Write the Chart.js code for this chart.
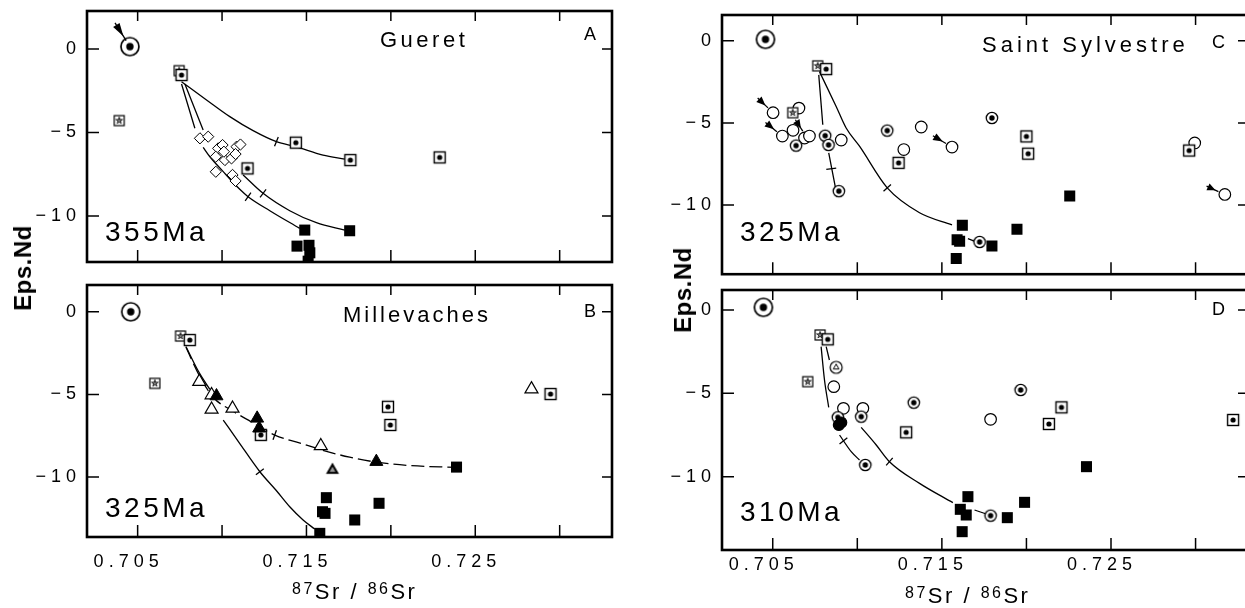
<!DOCTYPE html>
<html>
<head>
<meta charset="utf-8">
<title>Eps.Nd vs 87Sr/86Sr</title>
<script src="https://cdn.jsdelivr.net/npm/chart.js"></script>
<style>
  body { margin: 0; width: 1245px; height: 608px; overflow: hidden; background: #fff; position: relative;
         font-family: "Liberation Sans", Arial, sans-serif; color: #000; }
  canvas { position: absolute; }
  .txt { position: absolute; line-height: 1; white-space: nowrap; }
  .name { font-size: 22px; }
  .letter { font-size: 18px; }
  .age { font-size: 28px; letter-spacing: 3.5px; }
  .xt { font-size: 22px; letter-spacing: 2.5px; }
  .xt span { font-size: 16px; position: relative; top: -5px; }
  .yt { font-size: 24px; font-weight: bold; letter-spacing: 0.5px; transform: translate(-50%, -50%) rotate(-90deg); }
</style>
</head>
<body>
<canvas id="panelA" width="625" height="272" style="left:0;top:0"></canvas>
<canvas id="panelB" width="625" height="336" style="left:0;top:272px"></canvas>
<canvas id="panelC" width="630" height="282" style="left:630px;top:0"></canvas>
<canvas id="panelD" width="630" height="326" style="left:630px;top:282px"></canvas>

<div class="txt name" style="left:380px;top:29px;letter-spacing:3.5px">Gueret</div>
<div class="txt letter" style="left:584px;top:25px">A</div>
<div class="txt name" style="left:343px;top:304px;letter-spacing:3px">Millevaches</div>
<div class="txt letter" style="left:584px;top:302px">B</div>
<div class="txt name" style="left:982px;top:34px;letter-spacing:4px">Saint Sylvestre</div>
<div class="txt letter" style="left:1212px;top:33px">C</div>
<div class="txt letter" style="left:1212px;top:300px">D</div>

<div class="txt age" style="left:105px;top:218px">355Ma</div>
<div class="txt age" style="left:105px;top:494px">325Ma</div>
<div class="txt age" style="left:740px;top:218px">325Ma</div>
<div class="txt age" style="left:740px;top:498px">310Ma</div>

<div class="txt xt" style="left:292px;top:581px"><span>87</span>Sr / <span>86</span>Sr</div>
<div class="txt xt" style="left:905px;top:585px"><span>87</span>Sr / <span>86</span>Sr</div>
<div class="txt yt" style="left:23px;top:268px">Eps.Nd</div>
<div class="txt yt" style="left:683px;top:290px">Eps.Nd</div>

<script>
// axes
const xTickValues = [0.705, 0.710, 0.715, 0.720, 0.725, 0.730];
const xTickLabels = ['0.705', '', '0.715', '', '0.725', ''];
const yTickValues = [0, -5, -10];
const yTickLabels = ['0', '\u22125', '\u221210'];

// A - Gueret, 355 Ma
const aBullseyeBig = [[0.70454, 0.14]];
const aStarSquare = [[0.70391, -4.29], [0.70746, -1.30]];
const aDotSquare = [[0.70760, -1.56], [0.71437, -5.61], [0.71760, -6.65], [0.71151, -7.15], [0.72289, -6.49]];
const aFilledSquare = [[0.71490, -10.84], [0.71756, -10.88], [0.71444, -11.80], [0.71515, -11.75], [0.71520, -12.20], [0.71510, -12.70]];
const aDiamond = [[0.70869, -5.35], [0.70918, -5.25], [0.70977, -5.95], [0.71003, -5.75], [0.70963, -6.45],
                  [0.71017, -6.65], [0.71056, -6.55], [0.71086, -5.85], [0.71109, -5.72], [0.71080, -6.29],
                  [0.71011, -6.15], [0.70963, -7.35], [0.71062, -7.54], [0.71080, -7.90]];
const aCurveTop = [[0.70760, -1.96], [0.70908, -3.05], [0.71046, -4.05], [0.71184, -4.89], [0.71322, -5.55],
                   [0.71437, -5.85], [0.71598, -6.35], [0.71727, -6.59]];
const aCurveMid = [[0.70780, -2.10], [0.70888, -4.85], [0.70950, null], [0.71125, -7.54], [0.71243, -8.64],
                   [0.71401, -9.68], [0.71559, -10.40], [0.71727, -10.84]];
const aCurveLow = [[0.70760, -2.10], [0.70839, -4.75], [0.70860, null], [0.70888, -5.89], [0.70928, -6.45],
                   [0.71003, -7.30], [0.71105, -8.40], [0.71154, -8.84], [0.71283, -9.68], [0.71460, -10.74]];
const aCurveTicks = [[0.71322, -5.55], [0.71243, -8.64], [0.71154, -8.84]];
const aTickAngles = [112, 127, 125];
const aArrows = [[0.70366, 1.56, 0.70454, 0.14]];

// B - Millevaches, 325 Ma
const bBullseyeBig = [[0.70459, 0.0]];
const bStarSquare = [[0.70602, -4.33], [0.70754, -1.47]];
const bDotSquare = [[0.70809, -1.71], [0.71983, -5.75], [0.71997, -6.85], [0.71230, -7.45], [0.72946, -4.98]];
const bOpenTri = [[0.70865, -4.23], [0.70938, -5.04], [0.70938, -5.91], [0.71062, -5.85], [0.71585, -8.12], [0.72833, -4.68]];
const bFilledTri = [[0.70967, -5.10], [0.71208, -6.45], [0.71220, -7.05], [0.71914, -9.07]];
const bHatchTri = [[0.71654, -9.58]];
const bFilledSquare = [[0.71618, -11.25], [0.71595, -12.10], [0.71610, -12.20], [0.71786, -12.60],
                       [0.71930, -11.59], [0.71579, -13.41], [0.72389, -9.40]];
const bCurveSolid = [[0.70786, -2.10], [0.70860, -3.60], [0.70928, -4.70], [0.70970, null], [0.71007, -6.55],
                     [0.71100, -7.90], [0.71224, -9.68], [0.71320, -10.80], [0.71401, -11.80], [0.71480, -12.60], [0.71549, -13.15]];
const bCurveDash = [[0.70786, -2.15], [0.70869, -3.93], [0.70950, -5.20], [0.71062, -6.00], [0.71145, -6.50],
                    [0.71312, -7.46], [0.71480, -8.00], [0.71585, -8.35], [0.71756, -8.80], [0.71914, -9.10],
                    [0.72101, -9.30], [0.72389, -9.42]];
const bCurveTicks = [[0.71312, -7.46], [0.71224, -9.68]];
const bTickAngles = [110, 142];

// C - Saint Sylvestre, 325 Ma
const cBullseyeBig = [[0.70457, 0.08]];
const cStarSquare = [[0.70766, -1.53], [0.70618, -4.38]];
const cDotSquare = [[0.70816, -1.73], [0.71244, -7.43], [0.72000, -5.82], [0.72010, -6.87], [0.72962, -6.68]];
const cBullseye = [[0.70638, -6.38], [0.70810, -5.78], [0.70830, -6.34], [0.70891, -9.15], [0.71177, -5.47],
                   [0.71796, -4.70], [0.71723, -12.24]];
const cOpenCircle = [[0.70502, -4.38], [0.70557, -5.80], [0.70620, -5.45], [0.70655, -4.10], [0.70688, -5.92],
                     [0.70717, -5.80], [0.70905, -6.04], [0.71275, -6.62], [0.71378, -5.25], [0.71560, -6.47],
                     [0.72995, -6.22], [0.73173, -9.35]];
const cFilledSquare = [[0.71621, -11.23], [0.71590, -12.10], [0.71605, -12.20], [0.71585, -13.25],
                       [0.71796, -12.48], [0.71944, -11.47], [0.72256, -9.45]];
const cCurveLong = [[0.70776, -1.88], [0.70875, -4.00], [0.70934, -5.31], [0.71013, -6.42], [0.71177, -8.95],
                    [0.71368, -10.46], [0.71560, -11.20]];
const cCurveShort = [[0.70772, -2.08], [0.70796, -5.11], [0.70815, null], [0.70831, -6.82], [0.70871, -8.95]];
const cLink = [[0.71654, -12.04], [0.71699, -12.22]];
const cCurveTicks = [[0.71177, -8.95], [0.70846, -7.79]];
const cTickAngles = [138, 172];
const cArrows = [[0.70411, -3.49, 0.70502, -4.38], [0.70457, -4.97, 0.70557, -5.80], [0.70634, -4.81, 0.70700, -5.86],
                 [0.71447, -5.78, 0.71560, -6.47], [0.73065, -8.85, 0.73173, -9.35]];

// D - 310 Ma
const dBullseyeBig = [[0.70445, 0.16]];
const dStarSquare = [[0.70780, -1.50], [0.70707, -4.30]];
const dDotSquare = [[0.70825, -1.76], [0.71289, -7.34], [0.72207, -5.84], [0.72133, -6.84], [0.73222, -6.60]];
const dCircleTri = [[0.70875, -3.44]];
const dOpenCircle = [[0.70861, -4.60], [0.70918, -5.90], [0.71033, -5.90], [0.71788, -6.56]];
const dBullseye = [[0.71023, -6.40], [0.70885, -6.44], [0.71047, -9.30], [0.71334, -5.56], [0.71966, -4.80], [0.71788, -12.34]];
const dFilledCircle = [[0.70891, -6.90], [0.70905, -6.75]];
const dFilledSquare = [[0.71654, -11.20], [0.71609, -11.96], [0.71644, -12.30], [0.71620, -13.30],
                       [0.71887, -12.46], [0.71989, -11.54], [0.72355, -9.40]];
const dCurve1 = [[0.70786, -2.20], [0.70806, -4.20], [0.70831, -5.84], [0.70860, null], [0.70895, -7.50],
                 [0.70964, -8.50], [0.71013, -9.00]];
const dCurve2 = [[0.70816, -2.20], [0.70835, -3.00], [0.70900, null], [0.71023, -7.04], [0.71112, -8.10],
                 [0.71190, -9.10], [0.71368, -10.40], [0.71565, -11.56]];
const dLink = [[0.71693, -12.00], [0.71763, -12.24]];
const dCurveTicks = [[0.70918, -7.85], [0.71190, -9.10]];
const dTickAngles = [141, 131];

Chart.defaults.font.family = '"Liberation Sans", Arial, sans-serif';
Chart.defaults.color = '#000';

// marker images
function marker(size, draw) {
    const c = document.createElement('canvas');
    c.width = size; c.height = size;
    const g = c.getContext('2d');
    g.translate(size / 2, size / 2);
    g.strokeStyle = '#000';
    g.fillStyle = '#000';
    draw(g);
    return c;
}
function circ(g, r) { g.beginPath(); g.arc(0, 0, r, 0, 2 * Math.PI); }
function tri(g, r) {
    g.beginPath();
    for (let k = 0; k < 3; k++) {
        const a = -Math.PI / 2 + k * 2 * Math.PI / 3;
        k ? g.lineTo(Math.cos(a) * r, Math.sin(a) * r) : g.moveTo(Math.cos(a) * r, Math.sin(a) * r);
    }
    g.closePath();
}
const bullseyeBig = marker(24, g => {
    circ(g, 9); g.fillStyle = '#fff'; g.fill(); g.lineWidth = 1.7; g.stroke();
    circ(g, 3.7); g.fillStyle = '#000'; g.fill();
});
const bullseye = marker(16, g => {
    circ(g, 5.7); g.fillStyle = '#fff'; g.fill(); g.lineWidth = 1.3; g.stroke();
    circ(g, 2.7); g.fillStyle = '#000'; g.fill();
});
const dotSquare = marker(16, g => {
    g.fillStyle = '#fff'; g.fillRect(-5.5, -5.5, 11, 11);
    g.lineWidth = 1.4; g.strokeRect(-5.5, -5.5, 11, 11);
    circ(g, 2.6); g.fillStyle = '#000'; g.fill();
});
const starSquare = marker(14, g => {
    g.fillStyle = '#fff'; g.fillRect(-5, -5, 10, 10);
    g.lineWidth = 1.2; g.strokeRect(-5, -5, 10, 10);
    g.lineWidth = 0.8;
    g.beginPath();
    for (let k = 0; k < 5; k++) {
        const a = -Math.PI / 2 + k * 4 * Math.PI / 5;
        k ? g.lineTo(Math.cos(a) * 3.6, Math.sin(a) * 3.6) : g.moveTo(Math.cos(a) * 3.6, Math.sin(a) * 3.6);
    }
    g.closePath(); g.stroke();
});
const hatchTri = marker(18, g => {
    tri(g, 7.5); g.fill();
    tri(g, 3.4); g.fillStyle = '#999'; g.fill();
});
const circleTri = marker(16, g => {
    circ(g, 6); g.fillStyle = '#fff'; g.fill(); g.lineWidth = 1.2; g.stroke();
    tri(g, 3.3); g.lineWidth = 1; g.stroke();
});

const pts = arr => arr.map(([x, y]) => ({ x, y }));

function markerSet(data, style, extra) {
    return Object.assign({
        type: 'scatter', data: pts(data), pointStyle: style, pointRadius: 5,
        pointBackgroundColor: '#fff', pointBorderColor: '#000', pointBorderWidth: 1.2,
        showLine: false, order: 0
    }, extra || {});
}
function filledSquares(data) {
    return markerSet(data, 'rect', { pointRadius: 7.8, pointBackgroundColor: '#000', pointBorderWidth: 0 });
}
function curveSet(data, dash) {
    return {
        type: 'line', data: pts(data), borderColor: '#000', borderWidth: 1.3, borderDash: dash || [],
        pointRadius: 0, cubicInterpolationMode: 'monotone', spanGaps: false, fill: false, order: 5
    };
}
function tickSet(data, angles) {
    return {
        type: 'scatter', data: pts(data), pointStyle: 'line', pointRadius: 5, pointRotation: angles,
        pointBorderColor: '#000', pointBorderWidth: 1.3, showLine: false, order: 4
    };
}

// frame with inward ticks on four sides
const framePlugin = {
    id: 'frame',
    beforeDraw(chart) {
        chart.ctx.letterSpacing = '5px';
    },
    afterDraw(chart) {
        const { ctx, chartArea: a, scales: { x, y } } = chart;
        ctx.save();
        ctx.letterSpacing = '0px';
        ctx.strokeStyle = '#000';
        ctx.lineWidth = 2.6;
        ctx.strokeRect(a.left, a.top, a.right - a.left, a.bottom - a.top);
        ctx.lineWidth = 1.5;
        ctx.beginPath();
        x.ticks.forEach(t => {
            const px = x.getPixelForValue(t.value);
            ctx.moveTo(px, a.bottom); ctx.lineTo(px, a.bottom - 12);
            ctx.moveTo(px, a.top); ctx.lineTo(px, a.top + 10);
        });
        y.ticks.forEach(t => {
            const py = y.getPixelForValue(t.value);
            ctx.moveTo(a.left, py); ctx.lineTo(a.left + 12, py);
            ctx.moveTo(a.right, py); ctx.lineTo(a.right - 10, py);
        });
        ctx.stroke();
        ctx.restore();
    }
};

// pointers: black wedge narrowing towards the sample, thin line to it
const arrowPlugin = {
    id: 'arrows',
    afterDatasetsDraw(chart, args, opts) {
        const { ctx, scales: { x, y } } = chart;
        (opts.list || []).forEach(([x1, y1, x2, y2]) => {
            const ax = x.getPixelForValue(x1), ay = y.getPixelForValue(y1);
            const bx = x.getPixelForValue(x2), by = y.getPixelForValue(y2);
            const len = Math.hypot(bx - ax, by - ay);
            const ux = (bx - ax) / len, uy = (by - ay) / len;
            const L = len - 7;
            ctx.save();
            ctx.fillStyle = '#000'; ctx.strokeStyle = '#000'; ctx.lineWidth = 1.3;
            ctx.beginPath(); ctx.moveTo(ax, ay); ctx.lineTo(ax + ux * L, ay + uy * L); ctx.stroke();
            const sx = ax + ux * L * 0.12, sy = ay + uy * L * 0.12;
            const tx = ax + ux * L * 0.75, ty = ay + uy * L * 0.75;
            ctx.beginPath();
            ctx.moveTo(sx - uy * 3.8, sy + ux * 3.8);
            ctx.lineTo(sx + uy * 3.8, sy - ux * 3.8);
            ctx.lineTo(tx, ty);
            ctx.closePath(); ctx.fill();
            ctx.restore();
        });
    }
};

function makePanel(id, cfg) {
    const axisBase = { grid: { display: false, drawTicks: false }, border: { display: false } };
    return new Chart(document.getElementById(id), {
        type: 'scatter',
        data: { datasets: cfg.datasets },
        options: {
            responsive: false,
            animation: false,
            events: [],
            layout: { padding: { top: cfg.padTop, right: cfg.padRight, bottom: 0, left: 0 } },
            plugins: { legend: { display: false }, tooltip: { enabled: false }, arrows: { list: cfg.arrows || [] } },
            scales: {
                x: Object.assign({}, axisBase, {
                    type: 'linear', min: 0.702, max: 0.7331,
                    ticks: {
                        autoSkip: false, maxRotation: 0, padding: cfg.xPad || 0, labelOffset: -9,
                        font: { size: 18 },
                        callback: (v, i) => cfg.xLabels ? xTickLabels[i] : ''
                    },
                    afterBuildTicks: s => { s.ticks = xTickValues.map(value => ({ value })); },
                    afterFit: s => { s.height = cfg.xHeight; s.paddingLeft = 0; s.paddingRight = 0; }
                }),
                y: Object.assign({}, axisBase, {
                    type: 'linear', min: cfg.yMin, max: cfg.yMax,
                    ticks: { autoSkip: false, padding: 6, font: { size: 18 }, callback: (v, i) => yTickLabels[i] },
                    afterBuildTicks: s => { s.ticks = yTickValues.map(value => ({ value })); },
                    afterFit: s => { s.width = cfg.yWidth; s.paddingTop = 0; s.paddingBottom = 0; }
                })
            }
        },
        plugins: [framePlugin, arrowPlugin]
    });
}

makePanel('panelA', {
    yMin: -12.75, yMax: 2.27, padTop: 11, padRight: 13, yWidth: 87, xHeight: 10, xLabels: false,
    arrows: aArrows,
    datasets: [
        markerSet(aBullseyeBig, bullseyeBig),
        markerSet(aDotSquare, dotSquare),
        markerSet(aStarSquare, starSquare),
        markerSet(aDiamond, 'rectRot', { pointRadius: 5.6, pointBorderWidth: 1 }),
        filledSquares(aFilledSquare),
        tickSet(aCurveTicks, aTickAngles),
        curveSet(aCurveTop), curveSet(aCurveMid), curveSet(aCurveLow)
    ]
});

makePanel('panelB', {
    yMin: -13.63, yMax: 1.62, padTop: 13, padRight: 13, yWidth: 87, xHeight: 71, xLabels: true, xPad: 14,
    datasets: [
        markerSet(bBullseyeBig, bullseyeBig),
        markerSet(bFilledTri, 'triangle', { pointRadius: 7.5, pointBackgroundColor: '#000', pointBorderWidth: 1 }),
        markerSet(bOpenTri, 'triangle', { pointRadius: 7.5 }),
        markerSet(bHatchTri, hatchTri),
        markerSet(bDotSquare, dotSquare),
        markerSet(bStarSquare, starSquare),
        filledSquares(bFilledSquare),
        tickSet(bCurveTicks, bTickAngles),
        curveSet(bCurveSolid), curveSet(bCurveDash, [13, 5])
    ]
});

makePanel('panelC', {
    yMin: -14.2, yMax: 1.56, padTop: 15, padRight: 12, yWidth: 92, xHeight: 7, xLabels: false,
    arrows: cArrows,
    datasets: [
        markerSet(cBullseyeBig, bullseyeBig),
        markerSet(cDotSquare, dotSquare),
        markerSet(cStarSquare, starSquare),
        markerSet(cBullseye, bullseye),
        markerSet(cOpenCircle, 'circle', { pointRadius: 5.8 }),
        filledSquares(cFilledSquare),
        tickSet(cCurveTicks, cTickAngles),
        curveSet(cCurveLong), curveSet(cCurveShort), curveSet(cLink)
    ]
});

makePanel('panelD', {
    yMin: -14.4, yMax: 1.2, padTop: 8, padRight: 12, yWidth: 92, xHeight: 58, xLabels: true, xPad: 4,
    datasets: [
        markerSet(dFilledCircle, 'circle', { pointRadius: 5.5, pointBackgroundColor: '#000' }),
        markerSet(dBullseyeBig, bullseyeBig),
        markerSet(dDotSquare, dotSquare),
        markerSet(dStarSquare, starSquare),
        markerSet(dBullseye, bullseye),
        markerSet(dCircleTri, circleTri),
        markerSet(dOpenCircle, 'circle', { pointRadius: 5.8 }),
        filledSquares(dFilledSquare),
        tickSet(dCurveTicks, dTickAngles),
        curveSet(dCurve1), curveSet(dCurve2), curveSet(dLink)
    ]
});
</script>
</body>
</html>
